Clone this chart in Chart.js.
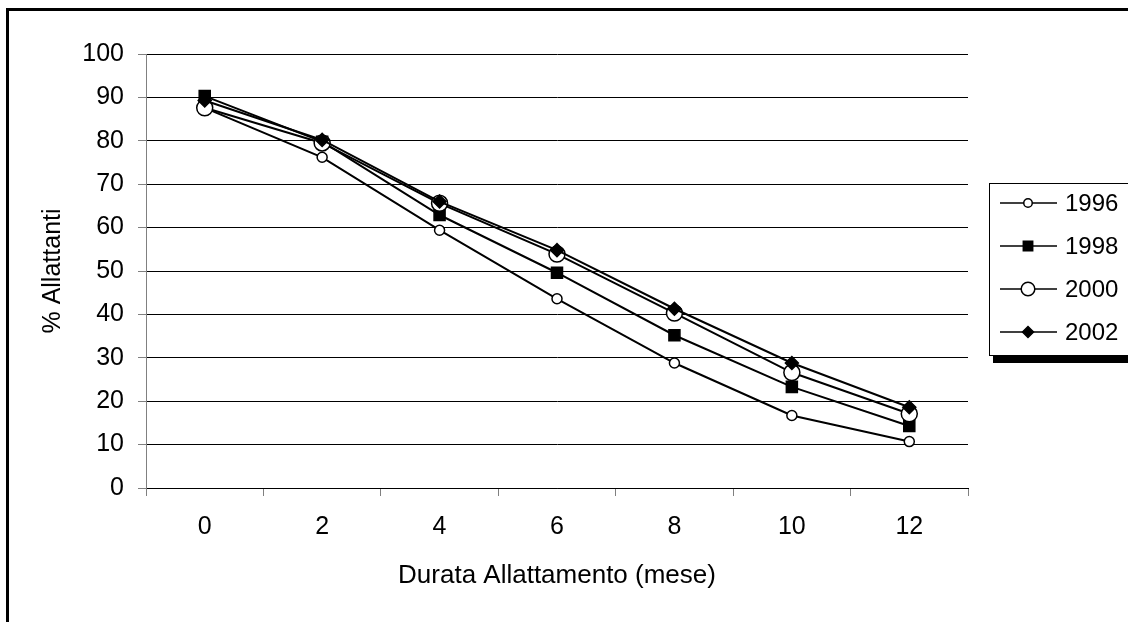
<!DOCTYPE html>
<html>
<head>
<meta charset="utf-8">
<script src="https://cdn.jsdelivr.net/npm/chart.js@4.4.0/dist/chart.umd.min.js"></script>
<style>
  html, body { margin: 0; padding: 0; background: #fff; }
  #wrap { width: 1128px; height: 622px; }
</style>
</head>
<body>
<div id="wrap"><canvas id="allattamentoChart" width="1128" height="622"></canvas></div>
<script>
// Durata allattamento: mesi e percentuale di allattanti per anno
const mesi = ['0', '2', '4', '6', '8', '10', '12'];
const anni = ['1996', '1998', '2000', '2002'];
const dati1996 = [87.6, 76.2, 59.4, 43.6, 28.8, 16.7, 10.7];
const dati1998 = [90.3, 79.8, 62.9, 49.6, 35.2, 23.3, 14.3];
const dati2000 = [87.6, 79.5, 65.6, 53.9, 40.3, 26.6, 17.1];
const dati2002 = [89.3, 80.2, 66.0, 54.8, 41.3, 28.8, 18.6];

Chart.defaults.font.family = '"Liberation Sans", Arial, sans-serif';
Chart.defaults.color = '#000';

const FONT = 25;
const FONT_TITOLO = 26;

// riquadro esterno (solo bordo sinistro e superiore visibili)
const cornicePlugin = {
    id: 'cornice',
    afterDraw(chart) {
        const ctx = chart.ctx;
        ctx.save();
        ctx.fillStyle = '#000';
        ctx.fillRect(6, 8, 1122, 3);
        ctx.fillRect(6, 8, 3, 614);
        ctx.restore();
    }
};

// legenda stile Excel con linea + marcatore e ombra
const legendaPlugin = {
    id: 'legenda',
    afterDraw(chart) {
        const ctx = chart.ctx;
        ctx.save();
        ctx.fillStyle = '#000';
        ctx.fillRect(993, 356, 140, 7);
        ctx.fillStyle = '#fff';
        ctx.fillRect(989.5, 183.5, 150, 172);
        ctx.strokeStyle = '#000';
        ctx.lineWidth = 1;
        ctx.strokeRect(989.5, 183.5, 150, 172);
        chart.data.datasets.forEach((ds, i) => {
            const y = 203 + i * 43;
            ctx.strokeStyle = '#000';
            ctx.lineWidth = 1.5;
            ctx.beginPath();
            ctx.moveTo(1000, y);
            ctx.lineTo(1057, y);
            ctx.stroke();
            ctx.fillStyle = ds.pointBackgroundColor;
            ctx.lineWidth = ds.pointBorderWidth;
            Chart.helpers.drawPoint(ctx, {
                pointStyle: ds.pointStyle,
                radius: ds.pointRadius * 0.85,
                rotation: 0,
                borderWidth: ds.pointBorderWidth
            }, 1028, y);
            ctx.fillStyle = '#000';
            ctx.font = '24px "Liberation Sans", Arial, sans-serif';
            ctx.textAlign = 'left';
            ctx.textBaseline = 'middle';
            ctx.fillText(ds.label, 1065, y + 1);
        });
        ctx.restore();
    }
};

function serie(label, data, style, radius, fill, order) {
    return {
        label: label,
        data: data,
        borderColor: '#000',
        borderWidth: 2,
        tension: 0,
        fill: false,
        pointStyle: style,
        pointRadius: radius,
        pointHoverRadius: radius,
        pointBackgroundColor: fill,
        pointBorderColor: '#000',
        pointBorderWidth: 1.5,
        order: order
    };
}

const ctx = document.getElementById('allattamentoChart').getContext('2d');
new Chart(ctx, {
    type: 'line',
    data: {
        labels: mesi,
        datasets: [
            serie(anni[0], dati1996, 'circle', 5, '#fff', 4),
            serie(anni[1], dati1998, 'rect', 7.8, '#000', 3),
            serie(anni[2], dati2000, 'circle', 8, '#fff', 2),
            serie(anni[3], dati2002, 'rectRot', 6.5, '#000', 1)
        ]
    },
    options: {
        responsive: false,
        animation: false,
        devicePixelRatio: 1,
        layout: { padding: { top: 54, right: 160, bottom: 0, left: 0 } },
        plugins: {
            legend: { display: false },
            tooltip: { enabled: false }
        },
        scales: {
            x: {
                type: 'category',
                offset: true,
                grid: { offset: true, drawOnChartArea: false, tickLength: 8, color: '#808080' },
                border: { color: '#000', width: 1 },
                ticks: { font: { size: FONT }, color: '#000', padding: 16, maxRotation: 0 },
                title: {
                    display: true,
                    text: 'Durata Allattamento (mese)',
                    font: { size: FONT_TITOLO },
                    color: '#000',
                    padding: { top: 0, bottom: 31 }
                },
                afterFit: s => { s.height = 134; }
            },
            y: {
                min: 0,
                max: 100,
                ticks: { stepSize: 10, font: { size: FONT }, color: '#000', padding: 14 },
                grid: { color: '#000', lineWidth: 1, tickLength: 8, tickColor: '#808080' },
                border: { color: '#808080', width: 1 },
                title: {
                    display: true,
                    text: '% Allattanti',
                    font: { size: FONT },
                    color: '#000',
                    padding: { top: 38, bottom: 0 }
                },
                afterFit: s => { s.width = 146; }
            }
        }
    },
    plugins: [cornicePlugin, legendaPlugin]
});
</script>
</body>
</html>
